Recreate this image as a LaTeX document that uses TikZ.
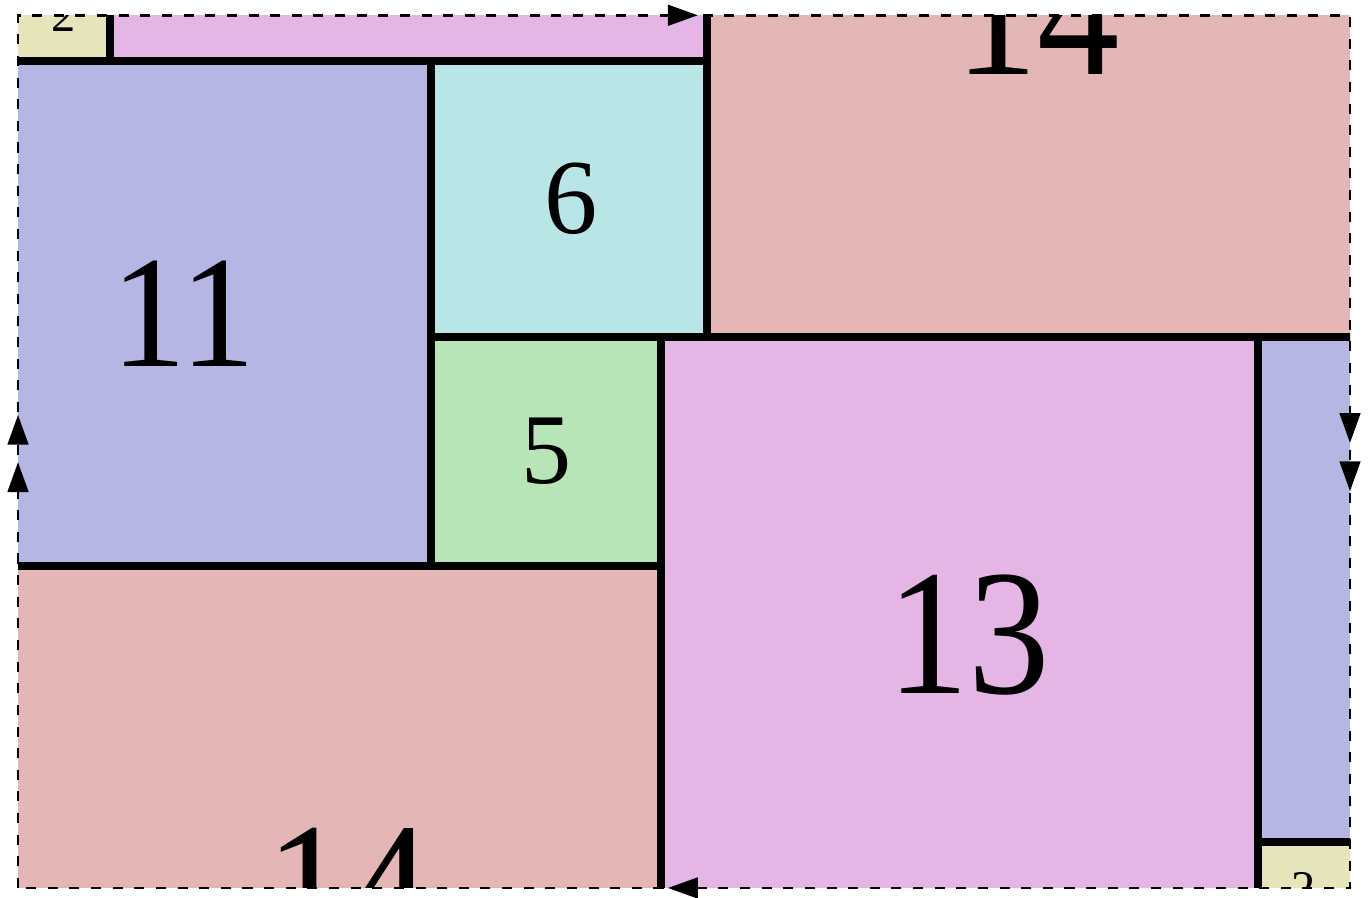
\documentclass[tikz,border=0pt]{standalone}
\usepackage{fontspec}
\setmainfont{Liberation Serif}
\usetikzlibrary{arrows.meta,positioning}

\definecolor{sqyellow}{RGB}{229,229,185}
\definecolor{sqpink}{RGB}{229,181,229}
\definecolor{sqblue}{RGB}{182,182,229}
\definecolor{sqsalmon}{RGB}{229,182,182}
\definecolor{sqcyan}{RGB}{184,229,229}
\definecolor{sqgreen}{RGB}{184,229,184}

\begin{document}
\begin{tikzpicture}[
    wall/.style={line width=5pt, line cap=rect},
    seam/.style={line width=1.6pt, dash pattern=on 6.2pt off 7.2pt},
    glue/.style={-{Triangle[length=0.65cm,width=0.45cm]}, line width=1.6pt},
    num/.style={inner sep=0pt, text=black}]
    \useasboundingbox (-0.392,-0.218) rectangle (29.479,19.333);
    \begin{scope}
    \clip (0,0) rectangle (29,19);
    % Squares
    \fill[sqyellow] (0,18) rectangle (2,19); % 2, top piece
    \fill[sqyellow] (27,0) rectangle (29,1); % 2, bottom piece
    \fill[sqpink] (2,18) rectangle (15,19); % 13, top strip
    \fill[sqpink] (14,0) rectangle (27,12); % 13
    \fill[sqblue] (0,7) rectangle (9,18); % 11
    \fill[sqblue] (27,1) rectangle (29,12); % 11, right strip
    \fill[sqsalmon] (15,12) rectangle (29,19); % 14, top half
    \fill[sqsalmon] (0,0) rectangle (14,7); % 14, bottom half
    \fill[sqcyan] (9,12) rectangle (15,18); % 6
    \fill[sqgreen] (9,7) rectangle (14,12); % 5

    % Walls
    \draw[wall] (0,18) -- (15,18);
    \draw[wall] (2,18) -- (2,19);
    \draw[wall] (15,12) -- (15,19);
    \draw[wall] (9,7) -- (9,18);
    \draw[wall] (9,12) -- (29,12);
    \draw[wall] (14,0) -- (14,12);
    \draw[wall] (0,7) -- (14,7);
    \draw[wall] (27,0) -- (27,12);
    \draw[wall] (27,1) -- (29,1);

    % Labels
    \node[num, font=\fontsize{30}{30}\selectfont] (n2a) at (1,19) {2};
    \node[num, font=\fontsize{30}{30}\selectfont] (n2b) at (28,0) {2};
    \node[num, font=\fontsize{99}{99}\selectfont] (n11) at (3.6,12.5) {\scalebox{0.94}[1]{11}};
    \node[num, font=\fontsize{66}{66}\selectfont] (n6) at (12.05,15) {6};
    \node[num, font=\fontsize{62}{62}\selectfont] (n5) at (11.5,9.5) {5};
    \node[num, font=\fontsize{111}{111}\selectfont] (n13) at (20.7,5.5) {\scalebox{0.91}[1]{13}};
    \node[num, font=\fontsize{112}{112}\selectfont] (n14a) at (22.2,19) {\scalebox{0.91}[1]{14}};
    \node[num, font=\fontsize{112}{112}\selectfont] (n14b) at (7.2,0) {\scalebox{0.91}[1]{14}};
    \end{scope}

    % Torus seams
    \draw[seam] (0,0) rectangle (29,19);

    % Gluing marks
    \draw[glue] (14.3,19) -- (14.8,19); % top
    \draw[glue] (14.65,0) -- (14.15,0); % bottom
    \draw[glue] (0,9.8) -- (0,10.3); % left
    \draw[glue] (0,8.77) -- (0,9.27);
    \draw[glue] (29,10.2) -- (29,9.69); % right
    \draw[glue] (29,9.15) -- (29,8.64);
\end{tikzpicture}
\end{document}
